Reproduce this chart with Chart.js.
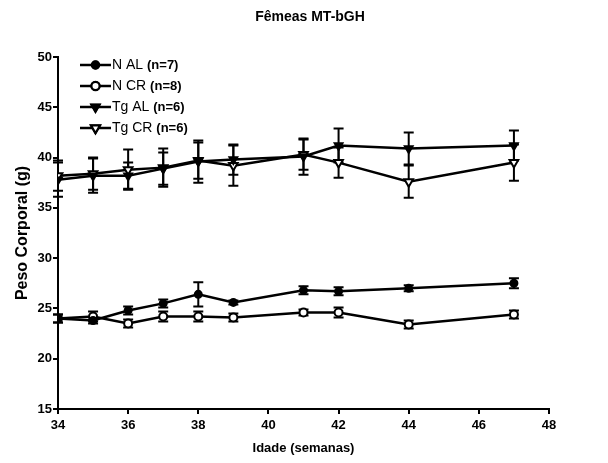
<!DOCTYPE html>
<html>
<head>
<meta charset="utf-8">
<script src="https://cdn.jsdelivr.net/npm/chart.js@4/dist/chart.umd.min.js"></script>
<style>
  body { margin: 0; background: #fff; }
  canvas { display: block; }
</style>
</head>
<body>
<canvas id="pesoChart" width="608" height="463"></canvas>
<script>
// idade (semanas)
var weeks = [34, 35, 36, 37, 38, 39, 41, 42, 44, 47];

// peso corporal médio (g) e erro padrão
var nAL = [24.0, 23.8, 24.8, 25.5, 26.4, 25.6, 26.8, 26.7, 27.0, 27.5];
var nALsem = [0.4, 0.3, 0.4, 0.4, 1.2, 0.2, 0.4, 0.4, 0.3, 0.5];
var nCR = [24.0, 24.2, 23.5, 24.2, 24.2, 24.1, 24.6, 24.6, 23.4, 24.4];
var nCRsem = [0.4, 0.5, 0.4, 0.5, 0.5, 0.4, 0.3, 0.5, 0.4, 0.4];
var tgAL = [37.8, 38.2, 38.2, 38.9, 39.6, 39.8, 40.1, 41.2, 40.9, 41.2];
var tgALsem = [1.7, 1.7, 1.3, 1.6, 2.1, 1.5, 1.8, 1.7, 1.6, 1.5];
var tgCR = [38.2, 38.4, 38.8, 39.0, 39.7, 39.2, 40.3, 39.5, 37.6, 39.5];
var tgCRsem = [1.5, 1.6, 2.0, 1.9, 1.8, 2.0, 1.5, 1.5, 1.6, 1.8];

var groupNames = ['N AL', 'N CR', 'Tg AL', 'Tg CR'];
var groupN = ['(n=7)', '(n=8)', '(n=6)', '(n=6)'];

function points(values) {
    return weeks.map(function (w, i) { return { x: w, y: values[i] }; });
}

var font = "'Liberation Sans', Arial, sans-serif";

// barras de erro (média ± EP), desenhadas por trás dos marcadores
var errorBars = {
    id: 'errorBars',
    beforeDatasetsDraw: function (chart) {
        var ctx = chart.ctx;
        var xs = chart.scales.x, ys = chart.scales.y;
        ctx.save();
        ctx.strokeStyle = '#000';
        ctx.lineWidth = 2;
        chart.data.datasets.forEach(function (ds) {
            ds.sem.forEach(function (e, i) {
                var px = xs.getPixelForValue(weeks[i]);
                var top = ys.getPixelForValue(ds.data[i].y + e);
                var bot = ys.getPixelForValue(ds.data[i].y - e);
                ctx.beginPath();
                ctx.moveTo(px, top); ctx.lineTo(px, bot);
                ctx.moveTo(px - 5, top); ctx.lineTo(px + 5, top);
                ctx.moveTo(px - 5, bot); ctx.lineTo(px + 5, bot);
                ctx.stroke();
            });
        });
        ctx.restore();
    }
};

// título e legenda (nome normal, n= em negrito)
var groupLegend = {
    id: 'groupLegend',
    afterDraw: function (chart) {
        var ctx = chart.ctx;
        ctx.save();
        ctx.fillStyle = '#000';
        ctx.textAlign = 'center';
        ctx.textBaseline = 'middle';
        ctx.font = 'bold 14px ' + font;
        ctx.fillText('Fêmeas MT-bGH', 310, 17);

        ctx.textAlign = 'left';
        chart.data.datasets.forEach(function (ds, i) {
            var y = 65 + i * 21;
            ctx.strokeStyle = '#000';
            ctx.lineWidth = 2.5;
            ctx.beginPath();
            ctx.moveTo(80, y); ctx.lineTo(111, y);
            ctx.stroke();
            Chart.helpers.drawPoint(ctx, {
                pointStyle: ds.pointStyle,
                rotation: ds.pointRotation || 0,
                radius: ds.pointRadius,
                borderWidth: ds.pointBorderWidth
            }, 95.5, y);
            ctx.fillStyle = ds.pointBackgroundColor;
            ctx.strokeStyle = '#000';
            ctx.lineWidth = ds.pointBorderWidth;
            ctx.fill();
            ctx.stroke();

            ctx.fillStyle = '#000';
            ctx.font = '14px ' + font;
            ctx.fillText(groupNames[i], 112, y);
            var w = ctx.measureText(groupNames[i] + ' ').width;
            ctx.font = 'bold 13px ' + font;
            ctx.fillText(groupN[i], 112 + w, y);
        });
        ctx.restore();
    }
};

function series(values, sem, style, fill, radius, rotation) {
    return {
        data: points(values),
        sem: sem,
        borderColor: '#000',
        borderWidth: 2.5,
        pointStyle: style,
        pointRotation: rotation,
        pointRadius: radius,
        pointBackgroundColor: fill,
        pointBorderColor: '#000',
        pointBorderWidth: 2,
        tension: 0
    };
}

var ctx = document.getElementById('pesoChart');
var pesoChart = new Chart(ctx, {
    type: 'line',
    data: {
        datasets: [
            series(nAL, nALsem, 'circle', '#000', 3.5, 0),
            series(nCR, nCRsem, 'circle', '#fff', 4, 0),
            series(tgAL, tgALsem, 'triangle', '#000', 4.5, 180),
            series(tgCR, tgCRsem, 'triangle', '#fff', 5, 180)
        ]
    },
    options: {
        responsive: false,
        animation: false,
        layout: { padding: { left: 0, right: 59, top: 57, bottom: 0 } },
        plugins: {
            legend: { display: false },
            tooltip: { enabled: false },
            title: { display: false }
        },
        scales: {
            x: {
                type: 'linear',
                min: 34,
                max: 48,
                afterFit: function (scale) { scale.height = 54; },
                border: { color: '#000', width: 2 },
                grid: { drawOnChartArea: false, drawTicks: true, tickLength: 5, color: '#000', lineWidth: 2 },
                ticks: { stepSize: 2, color: '#000', padding: 4, font: { family: font, size: 13, weight: 'bold' } },
                title: {
                    display: true,
                    text: 'Idade (semanas)',
                    color: '#000',
                    font: { family: font, size: 13, weight: 'bold' },
                    padding: { top: 0, bottom: 7 }
                }
            },
            y: {
                min: 15,
                max: 50,
                afterFit: function (scale) { scale.width = 58; },
                border: { color: '#000', width: 2 },
                grid: { drawOnChartArea: false, drawTicks: true, tickLength: 5, color: '#000', lineWidth: 2 },
                ticks: { stepSize: 5, color: '#000', padding: 1, font: { family: font, size: 13, weight: 'bold' } },
                title: {
                    display: true,
                    text: 'Peso Corporal (g)',
                    color: '#000',
                    font: { family: font, size: 16, weight: 'bold' },
                    padding: { top: 13, bottom: 0 }
                }
            }
        }
    },
    plugins: [errorBars, groupLegend]
});
</script>
</body>
</html>
